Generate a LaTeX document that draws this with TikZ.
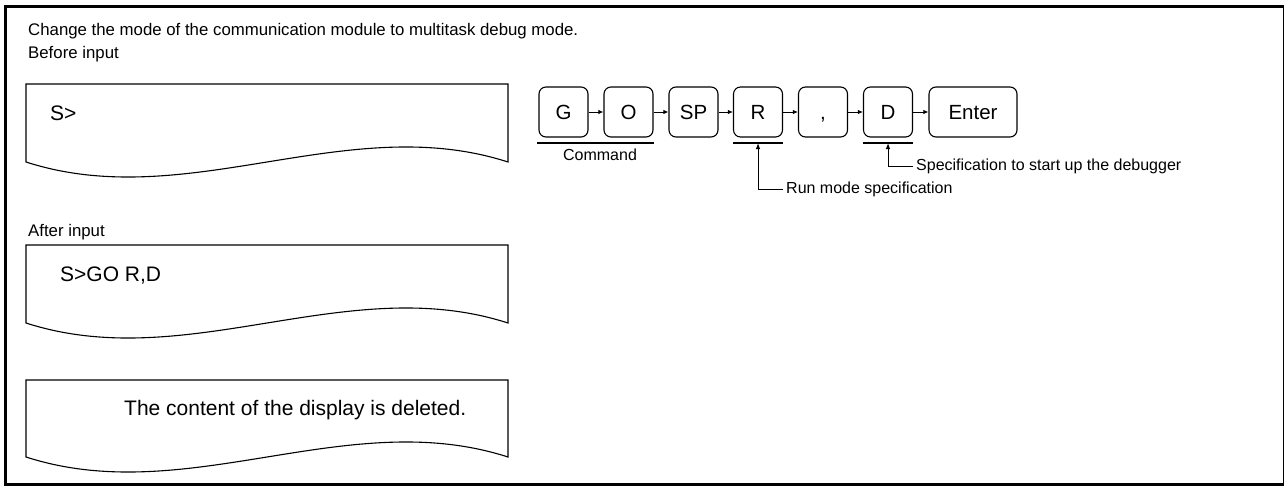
\documentclass[tikz,border=0pt]{standalone}
\usepackage{fontspec}
\setmainfont{Liberation Sans}
\usetikzlibrary{arrows.meta}
\begin{document}
\begin{tikzpicture}[x=1pt,y=-1pt,
  keybox/.style={draw, rounded corners=7pt, line width=1.1pt, minimum height=50pt, minimum width=49pt, inner sep=0pt, text height=14.8pt, text depth=0pt, font=\fontsize{20.5}{24}\selectfont},
  keyarrow/.style={-{Latex[length=5pt,width=4.5pt]}, line width=0.9pt},
  ptr/.style={-{Latex[length=6pt,width=4.5pt]}, line width=1pt},
  uline/.style={line width=2pt},
  maintext/.style={anchor=base west, inner sep=0pt, font=\fontsize{16.8}{20}\selectfont},
  disptext/.style={anchor=base west, inner sep=0pt, font=\fontsize{21}{25}\selectfont},
  lbl/.style={inner sep=0pt, font=\fontsize{16}{19}\selectfont},
  ptrlbl/.style={lbl, anchor=west, inner xsep=3pt},
  wavebox/.style={line width=1.1pt}
]
\useasboundingbox (0,0) rectangle (1285,487);
% frame
\draw[line width=3pt] (4,7) -- (1284,7);
\draw[line width=3pt] (5.5,5.5) -- (5.5,486);
\draw[line width=3pt] (4,484.5) -- (1284,484.5);
\draw[line width=1.2pt] (1283.5,7) -- (1283.5,484.5);

% texts
\node[maintext] (title) at (28,36) {Change the mode of the communication module to multitask debug mode.};
\node[maintext] (before) at (28,59) {Before input};
\node[maintext] (after) at (28,236) {After input};

% display boxes
\draw[wavebox] (508,162) .. controls (347,110) and (187,214) .. (26,162) -- (26,84) -- (508,84) -- cycle;
\node[disptext] (d1) at (50,121) {S>};
\draw[wavebox] (508,323) .. controls (347,271) and (187,375) .. (26,323) -- (26,245) -- (508,245) -- cycle;
\node[disptext] (d2) at (60,281) {S>GO R,D};
\draw[wavebox] (508,457) .. controls (347,405) and (187,509) .. (26,457) -- (26,380) -- (508,380) -- cycle;
\node[disptext] (d3) at (124,415) {The content of the display is deleted.};

% keys
\node[keybox] (kG) at (563.5,112) {G};
\node[keybox] (kO) at (628.5,112) {O};
\node[keybox] (kSP) at (693.5,112) {SP};
\node[keybox] (kR) at (758,112) {R};
\node[keybox] (kC) at (823,112) {,};
\node[keybox] (kD) at (888,112) {D};
\node[keybox, minimum width=88pt] (kE) at (973,112) {Enter};
\draw[keyarrow] (kG) -- (kO);
\draw[keyarrow] (kO) -- (kSP);
\draw[keyarrow] (kSP) -- (kR);
\draw[keyarrow] (kR) -- (kC);
\draw[keyarrow] (kC) -- (kD);
\draw[keyarrow] (kD) -- (kE);

% underlines
\coordinate (cmdL) at (537,143);
\coordinate (cmdR) at (654,143);
\coordinate (rL) at (733,143);
\coordinate (rR) at (783,143);
\coordinate (dL) at (863,143);
\coordinate (dR) at (913,143);
\coordinate (rM) at (758,143);
\coordinate (dM) at (888,143);
\draw[uline] (cmdL) -- (cmdR);
\draw[uline] (rL) -- (rR);
\draw[uline] (dL) -- (dR);
\node[lbl] (cmd) at (600,155) {Command};
\node[ptrlbl] (runlbl) at (783,189) {Run mode specification};
\node[ptrlbl] (dbglbl) at (913,166) {Specification to start up the debugger};
\draw[ptr] (runlbl.west) -| (rM);
\draw[ptr] (dbglbl.west) -| (dM);
\end{tikzpicture}
\end{document}
